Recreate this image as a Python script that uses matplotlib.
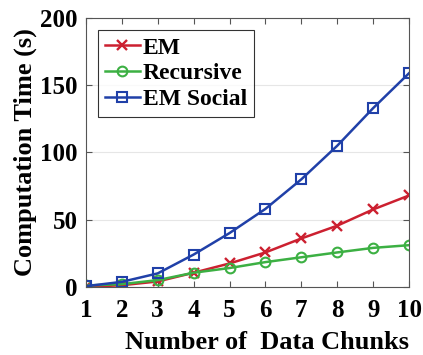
import matplotlib.pyplot as plt

# data
chunks = [1, 2, 3, 4, 5, 6, 7, 8, 9, 10]
em = [0, 1.2, 4, 10.5, 17.4, 25.6, 36, 45.5, 57.6, 68]
recursive = [1, 2, 5, 10.5, 14, 18.4, 22, 25.6, 29, 31]
em_social = [0.5, 3.7, 10, 24, 40, 58, 80, 105, 133, 159]

plt.rcParams['font.family'] = ['Liberation Serif', 'DejaVu Serif']
plt.rcParams['font.weight'] = 'bold'

fig = plt.figure(figsize=(4.23, 3.55), dpi=100)
ax = fig.add_axes([0.203, 0.192, 0.764, 0.757])

ax.plot(chunks, em, color='#cc2030', marker='x', ms=7, mew=1.7, lw=1.8, label='EM')
ax.plot(chunks, recursive, color='#3cb043', marker='o', ms=7, mfc='none', mew=1.5, lw=1.8, label='Recursive')
ax.plot(chunks, em_social, color='#2040a8', marker='s', ms=6.5, mfc='none', mew=1.5, lw=1.8, label='EM Social')

ax.set_xlim(1, 10)
ax.set_ylim(0, 200)
ax.set_xticks(chunks)
ax.set_yticks([0, 50, 100, 150, 200])
ax.grid(axis='y', color='#e6e6e6', lw=0.8)
ax.set_axisbelow(True)
ax.tick_params(direction='in', top=True, right=True, labelsize=18, length=4, color='#555555')
ax.tick_params(axis='x', pad=9)
ax.tick_params(axis='y', pad=6)
for s in ax.spines.values():
    s.set_color('#555555')

ax.set_xlabel('Number of  Data Chunks', fontsize=19, fontweight='bold')
ax.xaxis.set_label_coords(0.56, -0.165)
ax.set_ylabel('Computation Time (s)', fontsize=19, fontweight='bold', labelpad=2)

leg = ax.legend(loc='upper left', fontsize=17, fancybox=False, edgecolor='black',
                handlelength=1.5, handletextpad=0.1, borderpad=0.3, labelspacing=0.18,
                borderaxespad=0.5)
leg.get_frame().set_linewidth(0.8)

fig.savefig('out.png', dpi=100)
